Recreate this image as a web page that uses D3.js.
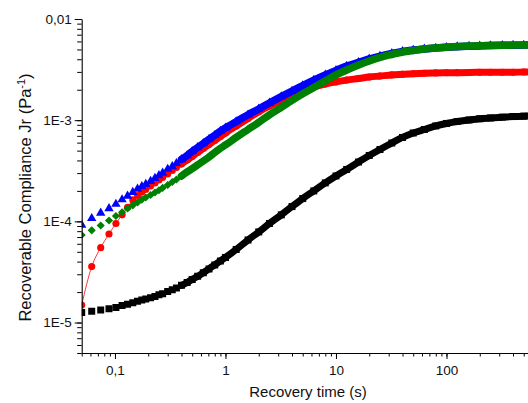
<!DOCTYPE html>
<html>
<head>
<meta charset="utf-8">
<script src="https://cdn.jsdelivr.net/npm/d3@7"></script>
<style>
  body { margin: 0; background: #fff; }
  svg { display: block; font-family: Arial, 'Liberation Sans', sans-serif; }
</style>
</head>
<body>
<div id="chart"></div>
<script>
// recovery time (s), shared by all four samples
var time = [0.05, 0.0616, 0.0743, 0.0883, 0.102, 0.116, 0.13, 0.145, 0.16, 0.175,
  0.19, 0.21, 0.23, 0.25, 0.27, 0.3, 0.33, 0.36, 0.4, 0.45,
  0.5, 0.56, 0.63, 0.71, 0.8, 0.9, 1, 1.25, 1.6, 2,
  2.5, 3.2, 4, 5, 6.3, 8, 10, 12.5, 16, 20,
  25, 32, 40, 50, 63, 80, 100, 125, 160, 200,
  250, 320, 400, 500, 600];

// recoverable compliance Jr (1/Pa)
var jrBlack = [1.26e-5, 1.29e-5, 1.33e-5, 1.37e-5, 1.41e-5, 1.47e-5, 1.52e-5, 1.57e-5, 1.62e-5, 1.67e-5,
  1.71e-5, 1.76e-5, 1.81e-5, 1.88e-5, 1.93e-5, 2.03e-5, 2.11e-5, 2.20e-5, 2.33e-5, 2.49e-5,
  2.67e-5, 2.86e-5, 3.11e-5, 3.39e-5, 3.71e-5, 4.06e-5, 4.40e-5, 5.27e-5, 6.55e-5, 7.86e-5,
  9.53e-5, 1.16e-4, 1.40e-4, 1.68e-4, 2.00e-4, 2.40e-4, 2.81e-4, 3.26e-4, 3.86e-4, 4.48e-4,
  5.13e-4, 5.95e-4, 6.75e-4, 7.47e-4, 8.09e-4, 8.77e-4, 9.28e-4, 9.71e-4, 1.005e-3, 1.033e-3,
  1.052e-3, 1.071e-3, 1.086e-3, 1.096e-3, 1.10e-3];

var jrRed = [1.49e-5, 3.57e-5, 5.50e-5, 7.51e-5, 9.53e-5, 1.16e-4, 1.38e-4, 1.63e-4, 1.80e-4, 1.94e-4,
  2.07e-4, 2.24e-4, 2.40e-4, 2.57e-4, 2.72e-4, 2.94e-4, 3.18e-4, 3.41e-4, 3.69e-4, 4.04e-4,
  4.38e-4, 4.80e-4, 5.25e-4, 5.75e-4, 6.30e-4, 6.90e-4, 7.47e-4, 8.76e-4, 1.04e-3, 1.21e-3,
  1.38e-3, 1.58e-3, 1.77e-3, 1.97e-3, 2.13e-3, 2.28e-3, 2.39e-3, 2.49e-3, 2.58e-3, 2.67e-3,
  2.73e-3, 2.80e-3, 2.84e-3, 2.88e-3, 2.91e-3, 2.93e-3, 2.94e-3, 2.95e-3, 2.96e-3, 2.97e-3,
  2.975e-3, 2.98e-3, 2.98e-3, 2.99e-3, 2.99e-3];

var jrBlue = [9.21e-5, 1.07e-4, 1.21e-4, 1.34e-4, 1.48e-4, 1.64e-4, 1.78e-4, 1.94e-4, 2.09e-4, 2.21e-4,
  2.33e-4, 2.49e-4, 2.67e-4, 2.84e-4, 3.01e-4, 3.28e-4, 3.49e-4, 3.74e-4, 4.09e-4, 4.48e-4,
  4.91e-4, 5.37e-4, 5.89e-4, 6.48e-4, 7.09e-4, 7.79e-4, 8.37e-4, 9.67e-4, 1.13e-3, 1.29e-3,
  1.48e-3, 1.71e-3, 1.94e-3, 2.20e-3, 2.49e-3, 2.80e-3, 3.10e-3, 3.42e-3, 3.73e-3, 4.03e-3,
  4.29e-3, 4.56e-3, 4.77e-3, 4.93e-3, 5.05e-3, 5.16e-3, 5.25e-3, 5.32e-3, 5.38e-3, 5.42e-3,
  5.46e-3, 5.49e-3, 5.51e-3, 5.52e-3, 5.53e-3];

var jrGreen = [7.34e-5, 8.15e-5, 9.11e-5, 1.02e-4, 1.13e-4, 1.23e-4, 1.34e-4, 1.44e-4, 1.54e-4, 1.64e-4,
  1.72e-4, 1.82e-4, 1.93e-4, 2.03e-4, 2.14e-4, 2.29e-4, 2.45e-4, 2.59e-4, 2.81e-4, 3.08e-4,
  3.32e-4, 3.61e-4, 3.95e-4, 4.33e-4, 4.80e-4, 5.28e-4, 5.69e-4, 6.75e-4, 8.09e-4, 9.53e-4,
  1.13e-3, 1.34e-3, 1.57e-3, 1.82e-3, 2.10e-3, 2.44e-3, 2.80e-3, 3.13e-3, 3.51e-3, 3.85e-3,
  4.17e-3, 4.46e-3, 4.70e-3, 4.88e-3, 5.05e-3, 5.17e-3, 5.26e-3, 5.34e-3, 5.40e-3, 5.43e-3,
  5.47e-3, 5.50e-3, 5.52e-3, 5.535e-3, 5.535e-3];

// labelled ticks
var xTickValues = [0.1, 1, 10, 100];
var xTickLabels = ['0,1', '1', '10', '100'];
var yTickValues = [0.01, 1e-3, 1e-4, 1e-5];
var yTickLabels = ['0,01', '1E-3', '1E-4', '1E-5'];

// beyond this time the markers sit so close they merge into a band
var bandFrom = 0.4;

var width = 528, height = 403;
var plot = {left: 81.7, top: 19, bottom: 353, right: 557};

var svg = d3.select('#chart')
  .append('svg')
    .attr('width', width)
    .attr('height', height);

svg.append('rect')
  .attr('width', width)
  .attr('height', height)
  .attr('fill', '#fff');

var x = d3.scaleLog()
  .domain([0.05, 1000])
  .range([plot.left, plot.right]);

var y = d3.scaleLog()
  .domain([5e-6, 0.01])
  .range([plot.bottom, plot.top]);

// series styling, drawn in this order
var series = [
  {values: jrBlack, color: '#000000', symbol: d3.symbolSquare, size: 49, angle: 0, band: 7, line: false},
  {values: jrRed, color: '#ff0000', symbol: d3.symbolCircle, size: 40, angle: 0, band: 7, line: true},
  {values: jrBlue, color: '#0000ff', symbol: d3.symbolTriangle, size: 38, angle: 0, band: 7.5, line: false},
  {values: jrGreen, color: '#008000', symbol: d3.symbolSquare, size: 33, angle: 45, band: 7.5, line: false}
];

svg.append('clipPath')
  .attr('id', 'plotClip')
  .append('rect')
    .attr('x', plot.left)
    .attr('y', 0)
    .attr('width', width - plot.left)
    .attr('height', plot.bottom);

var dataLayer = svg.append('g').attr('clip-path', 'url(#plotClip)');

var line = d3.line()
  .x(function(d) { return x(d.t); })
  .y(function(d) { return y(d.v); })
  .curve(d3.curveMonotoneX);

series.forEach(function(s) {
  var points = time.map(function(t, i) { return {t: t, v: s.values[i]}; });
  var g = dataLayer.append('g');

  // thin connecting line (only visible for the red sample)
  if (s.line) {
    g.append('path')
      .attr('d', line(points))
      .attr('fill', 'none')
      .attr('stroke', s.color)
      .attr('stroke-width', 0.8);
  }

  // dense markers read as a solid band
  g.append('path')
    .attr('d', line(points.filter(function(d) { return d.t >= bandFrom; })))
    .attr('fill', 'none')
    .attr('stroke', s.color)
    .attr('stroke-width', s.band)
    .attr('stroke-linecap', 'round');

  g.selectAll('path.marker')
    .data(points)
    .enter()
    .append('path')
      .attr('class', 'marker')
      .attr('d', d3.symbol().type(s.symbol).size(s.size))
      .attr('transform', function(d) {
        return 'translate(' + x(d.t) + ',' + y(d.v) + ') rotate(' + s.angle + ')';
      })
      .attr('fill', s.color);
});

// x axis: minor ticks then labelled ticks
svg.append('g')
  .attr('transform', 'translate(0,' + plot.bottom + ')')
  .call(d3.axisBottom(x).tickValues(x.ticks()).tickSize(3.5).tickSizeOuter(0).tickFormat(''))
  .call(function(g) { g.select('.domain').attr('stroke-width', 1.1); });

svg.append('g')
  .attr('transform', 'translate(0,' + plot.bottom + ')')
  .call(d3.axisBottom(x).tickValues(xTickValues).tickSize(6).tickPadding(6)
    .tickFormat(function(d, i) { return xTickLabels[i]; }))
  .call(function(g) { g.select('.domain').remove(); })
  .call(function(g) {
    g.selectAll('text')
      .attr('font-size', 13.5)
      .attr('font-family', 'Arial, "Liberation Sans", sans-serif')
      .attr('fill', '#111');
  });

// y axis
svg.append('g')
  .attr('transform', 'translate(' + plot.left + ',0)')
  .call(d3.axisLeft(y).tickValues(y.ticks()).tickSize(4.5).tickSizeOuter(0).tickFormat(''))
  .call(function(g) { g.select('.domain').attr('stroke-width', 1.1); });

svg.append('g')
  .attr('transform', 'translate(' + plot.left + ',0)')
  .call(d3.axisLeft(y).tickValues(yTickValues).tickSize(7).tickPadding(3)
    .tickFormat(function(d, i) { return yTickLabels[i]; }))
  .call(function(g) { g.select('.domain').remove(); })
  .call(function(g) {
    g.selectAll('text')
      .attr('font-size', 13.5)
      .attr('font-family', 'Arial, "Liberation Sans", sans-serif')
      .attr('fill', '#111');
  });

// axis titles
svg.append('text')
  .attr('x', 308)
  .attr('y', 397)
  .attr('text-anchor', 'middle')
  .attr('font-size', 15)
  .attr('fill', '#111')
  .text('Recovery time (s)');

var yTitle = svg.append('text')
  .attr('transform', 'translate(31,197.5) rotate(-90)')
  .attr('text-anchor', 'middle')
  .attr('font-size', 16.5)
  .attr('fill', '#111');
yTitle.append('tspan').text('Recoverable Compliance Jr (Pa');
yTitle.append('tspan').attr('dy', -6).attr('font-size', 11).text('-1');
yTitle.append('tspan').attr('dy', 6).text(')');
</script>
</body>
</html>
